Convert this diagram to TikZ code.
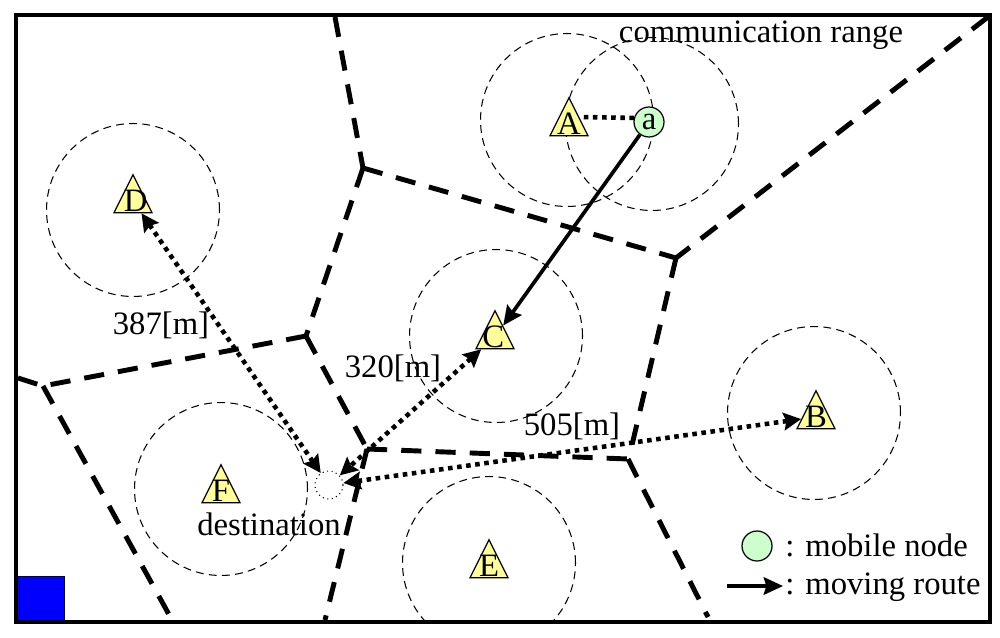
\documentclass[tikz,border=0pt]{standalone}
\usepackage{fontspec}
\setmainfont{Liberation Serif}
\usetikzlibrary{
  arrows.meta,
  shapes.geometric
}
\definecolor{sitefill}{HTML}{FFFF99}
\definecolor{mobilefill}{HTML}{CCFFCC}

\begin{document}
\begin{tikzpicture}[
  x=0.02cm, y=-0.02cm,
  every node/.style={font=\fontsize{18.6}{22}\selectfont},
  site/.style={
    draw, fill=sitefill, line width=0.7pt,
    isosceles triangle, isosceles triangle stretches, shape border rotate=90,
    minimum width=0.76cm, minimum height=0.76cm, inner sep=0pt,
  },
  mobile/.style={
    draw, circle, fill=mobilefill, line width=0.7pt,
    minimum size=0.6cm, inner sep=0pt,
  },
  commrange/.style={draw, circle, minimum size=3.46cm, line width=0.6pt,
    dash pattern=on 4.5pt off 3pt},
  regionline/.style={line width=2.8pt, dash pattern=on 11.5pt off 8pt},
  dotline/.style={line width=2.6pt, dash pattern=on 2.6pt off 2.6pt},
  distline/.style={dotline,
    arrows={Stealth[length=10pt,width=10pt,inset=1.5pt]-Stealth[length=10pt,width=10pt,inset=1.5pt]}},
  route/.style={-{Stealth[length=11pt,width=10pt,inset=1.5pt]}, line width=2.1pt},
]

\useasboundingbox (0,0) rectangle (1000,638);

% Communication ranges
\node[commrange] (rangeA) at (567,120) {};
\node[commrange] (rangea) at (652,124) {};
\node[commrange] (rangeB) at (814,413) {};
\node[commrange] (rangeC) at (496,336) {};
\node[commrange] (rangeD) at (133,210) {};
\node[commrange] (rangeF) at (221,489) {};
\begin{scope}
  \clip (16,15) rectangle (990,622);
  \node[commrange] (rangeE) at (489,563) {};
\end{scope}

% Region borders
\coordinate (p1) at (335,17);
\coordinate (p2) at (363,168);
\coordinate (p3) at (676,258);
\coordinate (p4) at (988,17);
\coordinate (p5) at (306,336);
\coordinate (p6) at (43,386);
\coordinate (p7) at (18,378);
\coordinate (p8) at (367,449);
\coordinate (p9) at (628,459);
\coordinate (p10) at (708,617);
\coordinate (p11) at (325,620);
\coordinate (p12) at (172,620);
\coordinate (p13) at (632,445);
\draw[regionline] (p1) -- (p2);
\draw[regionline] (p2) -- (p3);
\draw[regionline] (p4) -- (p3);
\draw[regionline] (p3) -- (p13);
\draw[regionline] (p2) -- (p5);
\draw[regionline] (p5) -- (p6);
\draw[regionline] (p7) -- (p6);
\draw[regionline] (p6) -- (p12);
\draw[regionline] (p5) -- (p8);
\draw[regionline] (p8) -- (p9);
\draw[regionline] (p9) -- (p10);
\draw[regionline] (p8) -- (p11);

% Base stations
\node[site, label=center:A] (A) at (569,124) {};
\node[site, label=center:B] (B) at (816,417) {};
\node[site, label={[xshift=-1pt]center:C}] (C) at (495,337) {};
\node[site, label={[xshift=1.5pt]center:D}] (D) at (133,201) {};
\node[site, label=center:E] (E) at (489,566) {};
\node[site, label=center:F] (F) at (221,491) {};

% Mobile node and destination
\node[mobile] (a) at (649,122) {a};
\node[draw, circle, dotted, line width=0.6pt, minimum size=0.56cm, inner sep=0pt] (dest) at (329,485) {};

\draw[dotline, shorten <=2.5pt] (A.34) -- (a.165);
\draw[route] (a) -- (C);
\draw[distline] (D) -- (dest);
\draw[distline] (C) -- (dest);
\draw[distline] (B) -- (dest);

% Labels
\node (lblrange) at (761,35) {communication range};
\node (lblD) at (161,325) {387[m]};
\node (lblC) at (393,368) {320[m]};
\node (lblB) at (572,426) {505[m]};
\node (lbldest) at (269,524) {destination};

% Legend
\node[mobile] (legnode) at (757,546) {};
\node[anchor=west, inner sep=0pt] (legnodetxt) at (785,545) {: mobile node};
\node[anchor=west, inner sep=0pt] (legroutetxt) at (785,587) {: moving route};
\coordinate (legstart) at (727,586);
\coordinate (legend) at (783,586);
\draw[route, line width=1.8pt] (legstart) -- (legend);

% Corner block and frame
\node[draw, fill=blue, line width=0.8pt, anchor=south west, minimum width=0.94cm, minimum height=0.9cm, inner sep=0pt] (corner) at (17,622) {};
\draw[line width=2pt] (16,15) rectangle (990,622);

\end{tikzpicture}
\end{document}
